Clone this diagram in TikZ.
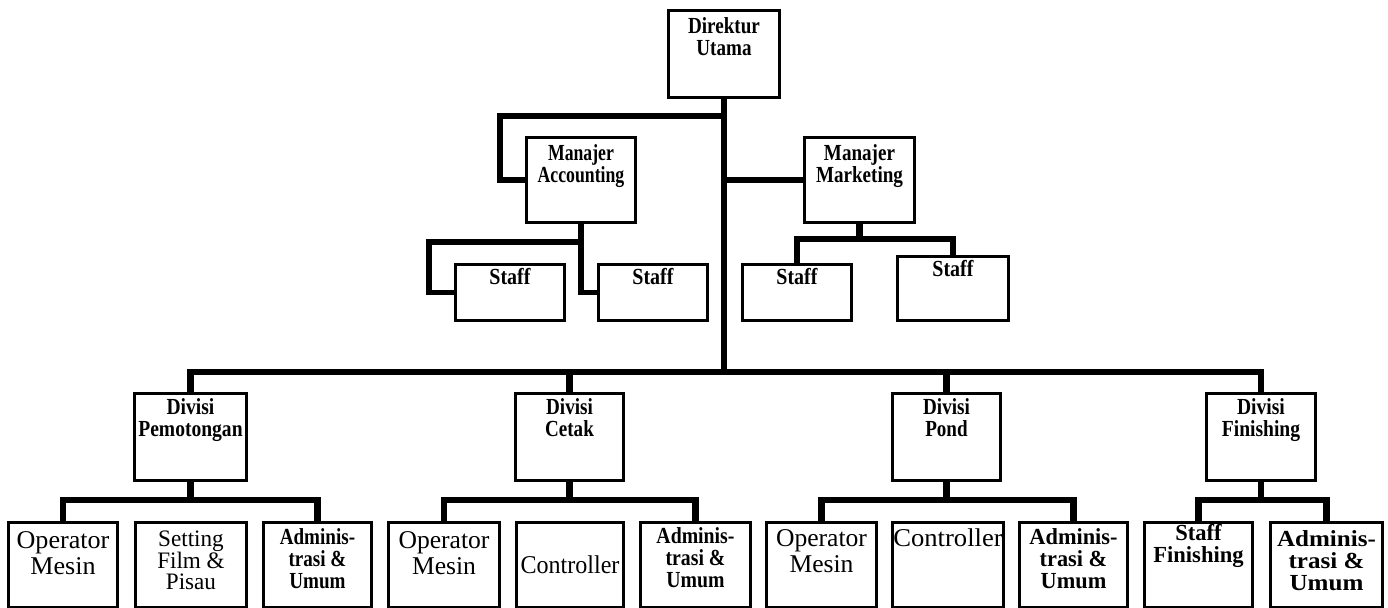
\documentclass[tikz,border=0pt]{standalone}
\usepackage{fontspec}
\usepackage{graphicx}
\setmainfont{Liberation Serif}
\newlength\pxu
\setlength\pxu{0.5pt}
\newcommand\fB{\fontsize{11.5}{10.9}\selectfont\bfseries}
\newcommand\fR{\fontsize{12.8}{13}\selectfont}
\newcommand\fS{\fontsize{11.8}{10.8}\selectfont}
\tikzset{
  obox/.style={draw, line width=1.5pt, inner sep=0pt, anchor=north west, line join=miter},
  conn/.style={line width=3.2pt, line join=miter},
  connthin/.style={line width=2.6pt, line join=miter},
}
% #1 name, #2 x1, #3 y1, #4 x2, #5 y2, #6 first baseline (px), #7 font, #8 x-scale, #9 text
\newcommand\orgbox[9]{%
  \node[obox] (#1) at (#2,#3) {\parbox[c][\dimexpr\pxu*(#5-#3)\relax][t]{\dimexpr\pxu*(#4-#2)\relax}{\centering#7\lineskiplimit=-100pt\relax\vspace*{\dimexpr\pxu*#6-0.78em\relax}\scalebox{#8}[1]{\vtop{\let\\\cr\halign{\hfil\rule{0pt}{0.78em}##\hfil\cr#9\cr}}}\par}};}
\begin{document}
\begin{tikzpicture}[x=0.5pt,y=-0.5pt]
\fill[white] (0,0) rectangle (1388,607);
\useasboundingbox (0,0) rectangle (1388,607);
% boxes
\orgbox{dir}{667}{9}{778}{96}{23}{\fB}{0.83}{Direktur\\Utama}
\orgbox{macc}{525}{136}{634}{221}{23}{\fB}{0.77}{Manajer\\Accounting}
\orgbox{mmkt}{803}{136}{913}{221}{23}{\fB}{0.83}{Manajer\\Marketing}
\orgbox{st1}{454}{263}{563}{319}{20}{\fB}{0.87}{Staff}
\orgbox{st2}{597}{263}{706}{319}{20}{\fB}{0.87}{Staff}
\orgbox{st3}{741}{263}{850}{319}{20}{\fB}{0.87}{Staff}
\orgbox{st4}{896}{255}{1007}{319}{20}{\fB}{0.87}{Staff}
\orgbox{dpem}{133}{392}{245}{479}{21}{\fB}{0.85}{Divisi\\Pemotongan}
\orgbox{dcet}{514}{392}{622}{479}{21}{\fB}{0.83}{Divisi\\Cetak}
\orgbox{dpon}{891}{392}{999}{479}{21}{\fB}{0.83}{Divisi\\Pond}
\orgbox{dfin}{1205}{392}{1314}{479}{21}{\fB}{0.85}{Divisi\\Finishing}
\orgbox{om1}{7}{521}{116}{606}{26}{\fR}{1.02}{Operator\\Mesin}
\orgbox{setf}{134}{521}{245}{606}{24}{\fS}{0.98}{Setting\\Film \&\\Pisau}
\orgbox{adm1}{262}{521}{370}{606}{22}{\fB}{0.83}{Adminis-\\trasi \&\\Umum}
\orgbox{om2}{387}{521}{498}{606}{26}{\fR}{1.0}{Operator\\Mesin}
\orgbox{ctl2}{515}{521}{622}{606}{51}{\fR}{0.94}{Controller}
\orgbox{adm2}{639}{521}{749}{606}{21}{\fB}{0.86}{Adminis-\\trasi \&\\Umum}
\orgbox{om3}{765}{521}{875}{606}{24}{\fR}{1.0}{Operator\\Mesin}
\orgbox{ctl3}{891}{521}{1002}{606}{24}{\fR}{1.04}{Controller}
\orgbox{adm3}{1018}{521}{1126}{606}{22}{\fB}{0.97}{Adminis-\\trasi \&\\Umum}
\orgbox{sfin}{1143}{521}{1251}{606}{18}{\fB}{0.98}{Staff\\Finishing}
\orgbox{adm4}{1269}{521}{1381}{606}{24}{\fB}{1.09}{Adminis-\\trasi \&\\Umum}
% helper levels
\coordinate (ybar) at (0,372);
\coordinate (yacc) at (0,116);
\coordinate (yaccs) at (0,242);
\coordinate (ymkts) at (0,239);
\coordinate (ysub) at (0,500);
\coordinate (xaccl) at (429,0);
\coordinate (xaccj) at (500,0);
% junctions derived from nodes
\coordinate (barj) at (dir.south |- ybar);
\coordinate (accj) at (xaccj |- yacc);
\coordinate (accs) at (xaccl |- yaccs);
\coordinate (mkts) at (mmkt.south |- ymkts);
\coordinate (pemj) at (dpem.south |- ysub);
\coordinate (cetj) at (dcet.south |- ysub);
\coordinate (ponj) at (dpon.south |- ysub);
\coordinate (finj) at (dfin.south |- ysub);
% top part
\draw[conn] (dir.south) -- (barj);
\draw[conn] (dir.south |- accj) -- (accj) |- (macc.west);
\draw[conn] (mmkt.west) -- (mmkt.west -| dir.south);
\draw[connthin] (st1.west) -| (accs) -| (macc.south);
\draw[connthin] (st2.west) -| (macc.south);
\draw[conn] (st3.north) |- (mkts) -| (st4.north);
\draw[conn] (mmkt.south) -- (mkts);
% main bar
\draw[conn] (dpem.north) |- (barj) -| (dfin.north);
\draw[conn] (dcet.north) -- (dcet.north |- barj);
\draw[conn] (dpon.north) -- (dpon.north |- barj);
% division bars
\draw[conn] (om1.north) |- (pemj) -| (adm1.north);
\draw[conn] (dpem.south) -- (pemj);
\draw[conn] (om2.north) |- (cetj) -| (adm2.north);
\draw[conn] (dcet.south) -- (cetj);
\draw[conn] (om3.north) |- (ponj) -| (adm3.north);
\draw[conn] (dpon.south) -- (ponj);
\draw[conn] (sfin.north) |- (finj) -| (adm4.north);
\draw[conn] (dfin.south) -- (finj);
\end{tikzpicture}
\end{document}
